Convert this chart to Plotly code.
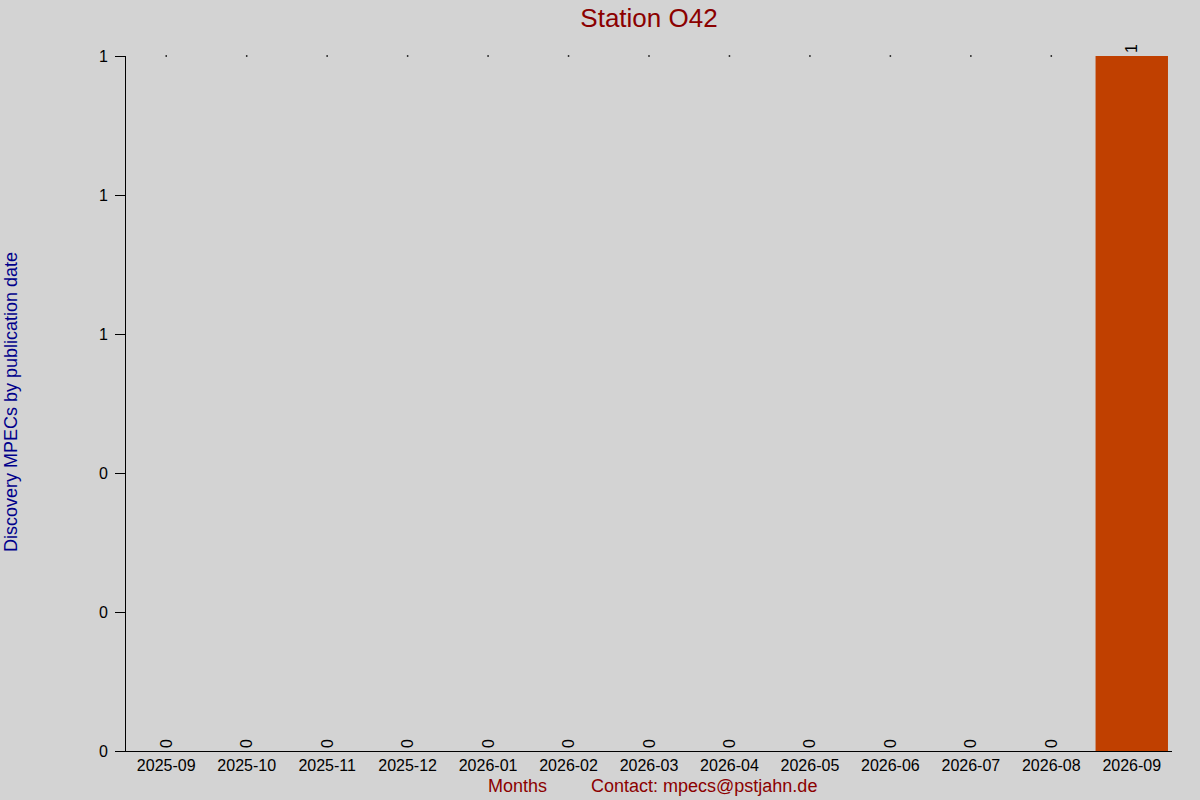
import plotly.graph_objects as go

# data
months = ["2025-09", "2025-10", "2025-11", "2025-12", "2026-01", "2026-02",
          "2026-03", "2026-04", "2026-05", "2026-06", "2026-07", "2026-08",
          "2026-09"]
mpecs = [0, 0, 0, 0, 0, 0, 0, 0, 0, 0, 0, 0, 1]
y_tickvals = [0, 0.2, 0.4, 0.6, 0.8, 1.0]
y_ticktext = ["0", "0", "0", "1", "1", "1"]

fig = go.Figure()

fig.add_trace(go.Bar(
    x=months,
    y=mpecs,
    marker=dict(color="#C04000", line=dict(width=0)),
    width=0.9,
    text=[str(v) for v in mpecs],
    textposition="outside",
    textangle=-90,
    textfont=dict(family="Liberation Sans", size=16, color="black"),
    cliponaxis=False,
    showlegend=False,
))

# tiny caps on top of the empty months
ymax = max(mpecs)
fig.add_trace(go.Scatter(
    x=[m for m, v in zip(months, mpecs) if v == 0],
    y=[ymax for v in mpecs if v == 0],
    mode="markers",
    marker=dict(color="black", size=1.5, symbol="square"),
    cliponaxis=False,
    showlegend=False,
    hoverinfo="skip",
))

W = 1046  # plot width in px
fig.update_layout(
    width=1200, height=800,
    paper_bgcolor="#D3D3D3",
    plot_bgcolor="#D3D3D3",
    font=dict(family="Liberation Sans", size=16, color="black"),
    margin=dict(l=126, r=28, t=56, b=49),
    title=dict(text="Station O42", x=649 / 1200, xanchor="center", y=1 - 18 / 800, yanchor="middle",
               font=dict(size=26, color="#8B0000")),
    bargap=0.1,
    xaxis=dict(
        type="category",
        range=[-0.5, len(months) - 0.5],
        showline=True, linecolor="black", linewidth=1,
        ticks="", showgrid=False, zeroline=False,
        tickfont=dict(size=16, color="black"),
    ),
    yaxis=dict(
        range=[0, 1],
        tickvals=y_tickvals, ticktext=y_ticktext,
        showline=True, linecolor="black", linewidth=1,
        ticks="outside", ticklen=10, tickcolor="black",
        ticklabelstandoff=4,
        showgrid=False, zeroline=False,
        tickfont=dict(size=16, color="black"),
    ),
    annotations=[
        dict(text="Discovery MPECs by publication date", xref="paper", yref="paper",
             x=(11 - 126) / W, y=(751 - 402) / 695, textangle=-90,
             xanchor="center", yanchor="middle", showarrow=False,
             font=dict(size=18, color="#00008B")),
        dict(text="Months", xref="paper", yref="paper", x=(517 - 126) / W, y=-(786 - 751) / 695,
             xanchor="center", yanchor="middle", showarrow=False,
             font=dict(size=18, color="#8B0000")),
        dict(text="Contact: mpecs@pstjahn.de", xref="paper", yref="paper",
             x=(704 - 126) / W, y=-(786 - 751) / 695, xanchor="center", yanchor="middle",
             showarrow=False, font=dict(size=18, color="#8B0000")),
    ],
)

fig.write_html("out.html", config={"displayModeBar": False},
               post_script="document.body.style.margin='0';")
